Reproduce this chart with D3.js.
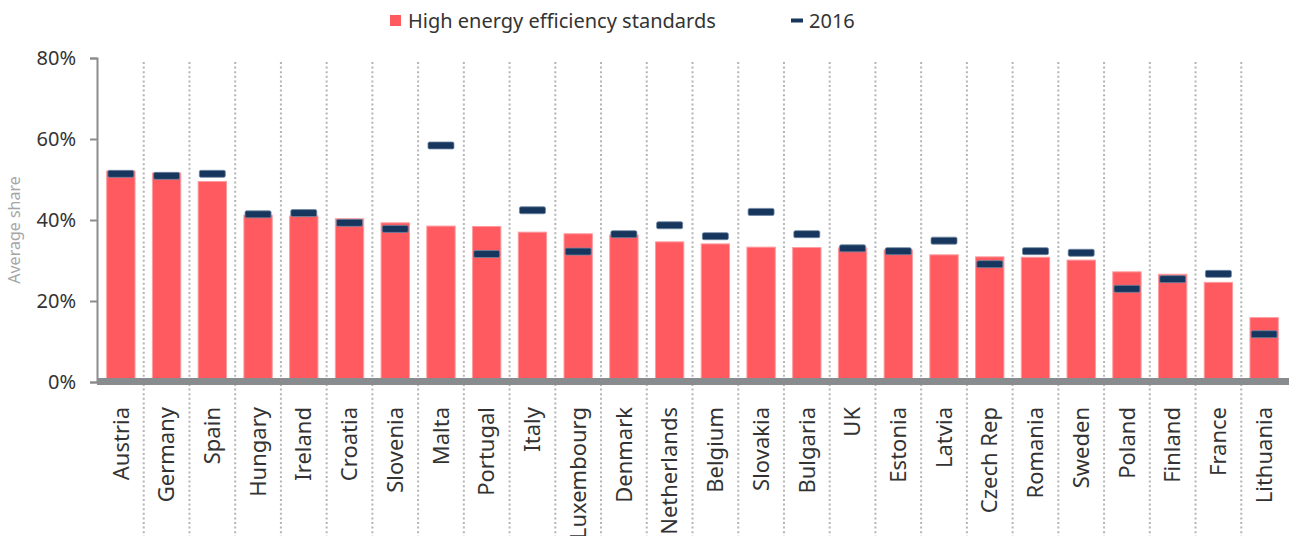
<!DOCTYPE html>
<meta charset="utf-8">
<style>
body { margin: 0; background: #fff; }
text { font-family: "Noto Sans", "Open Sans", sans-serif; fill: #333; }
.sep { stroke: #b4b4b4; stroke-width: 2; stroke-dasharray: 2,2.6; }
.bar { fill: #ff5a5f; stroke: #ff9c9f; stroke-width: 1; }
.mark { fill: #17365d; stroke: #6f86a3; stroke-width: 0.8; }
.axis--y path, .axis--y line { stroke: #8c8c8c; stroke-width: 2; }
</style>
<svg width="1289" height="536"></svg>
<script src="https://cdn.jsdelivr.net/npm/d3@7/dist/d3.min.js"></script>
<script>
var countries = ["Austria","Germany","Spain","Hungary","Ireland","Croatia","Slovenia","Malta","Portugal","Italy",
  "Luxembourg","Denmark","Netherlands","Belgium","Slovakia","Bulgaria","UK","Estonia","Latvia","Czech Rep",
  "Romania","Sweden","Poland","Finland","France","Lithuania"];

// high energy efficiency standards (bars)
var highEff = [0.521,0.516,0.495,0.412,0.410,0.403,0.393,0.385,0.384,0.370,
  0.366,0.363,0.346,0.341,0.333,0.332,0.331,0.326,0.314,0.309,
  0.308,0.301,0.272,0.266,0.246,0.159];

// 2016 markers
var y2016 = [0.514,0.509,0.514,0.414,0.417,0.393,0.378,0.584,0.316,0.424,
  0.322,0.365,0.387,0.360,0.420,0.365,0.330,0.323,0.349,0.291,
  0.323,0.319,0.230,0.254,0.267,0.118];

var yTicks = [0, 0.2, 0.4, 0.6, 0.8];

var svg = d3.select("svg");

var x = d3.scaleBand().domain(countries).range([98, 1287]),
    y = d3.scaleLinear().domain([0, 0.8]).range([382, 58]);

var barW = x.bandwidth() * 0.62,
    markW = 26, markH = 7;

// dotted column separators
svg.append("g").selectAll("line")
  .data(countries.slice(1))
  .enter().append("line")
    .attr("class", "sep")
    .attr("x1", function(d) { return x(d); })
    .attr("x2", function(d) { return x(d); })
    .attr("y1", 62)
    .attr("y2", 536);

// bars
svg.append("g").selectAll("rect")
  .data(countries)
  .enter().append("rect")
    .attr("class", "bar")
    .attr("x", function(d) { return x(d) + (x.bandwidth() - barW) / 2; })
    .attr("y", function(d, i) { return y(highEff[i]); })
    .attr("width", barW)
    .attr("height", function(d, i) { return y(0) - y(highEff[i]); });

// 2016 markers
svg.append("g").selectAll("rect")
  .data(countries)
  .enter().append("rect")
    .attr("class", "mark")
    .attr("x", function(d) { return x(d) + (x.bandwidth() - markW) / 2; })
    .attr("y", function(d, i) { return y(y2016[i]) - markH / 2; })
    .attr("width", markW)
    .attr("height", markH)
    .attr("rx", 1.5);

// thick baseline
svg.append("rect")
  .attr("x", 97).attr("y", 378)
  .attr("width", 1289 - 97).attr("height", 7)
  .attr("fill", "#898c8e");

// y axis
var yAxis = d3.axisLeft(y)
  .tickValues(yTicks)
  .tickFormat(d3.format(".0%"))
  .tickSize(7)
  .tickSizeOuter(7)
  .tickPadding(14);

var gy = svg.append("g")
  .attr("class", "axis axis--y")
  .attr("transform", "translate(97,0)")
  .call(yAxis);
gy.selectAll("text").style("font-size", "20px").attr("fill", "#333");

svg.append("text")
  .attr("transform", "translate(20,230) rotate(-90)")
  .attr("text-anchor", "middle")
  .style("font-size", "16px")
  .style("fill", "#a6a6a6")
  .text("Average share");

// category labels
svg.append("g").selectAll("text")
  .data(countries)
  .enter().append("text")
    .attr("transform", function(d) { return "translate(" + (x(d) + x.bandwidth() / 2) + ",407) rotate(-90)"; })
    .attr("text-anchor", "end")
    .attr("dy", "0.35em")
    .style("font-size", "22px")
    .text(function(d) { return d; });

// legend
var legend = svg.append("g");
legend.append("rect")
  .attr("x", 390).attr("y", 15).attr("width", 11).attr("height", 11)
  .attr("fill", "#ff5a5f");
legend.append("text")
  .attr("x", 408).attr("y", 28)
  .style("font-size", "20px")
  .text("High energy efficiency standards");
legend.append("rect")
  .attr("x", 791).attr("y", 18.5).attr("width", 12).attr("height", 4)
  .attr("fill", "#17365d");
legend.append("text")
  .attr("x", 809).attr("y", 28)
  .style("font-size", "20px")
  .text("2016");
</script>
